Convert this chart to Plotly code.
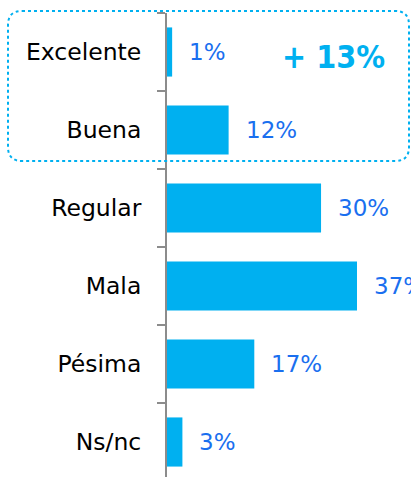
import plotly.graph_objects as go

categories = ["Excelente", "Buena", "Regular", "Mala", "Pésima", "Ns/nc"]
values = [1, 12, 30, 37, 17, 3]
highlight_text = "+ 13%"

W, H = 411, 477
ML, MR, MT, MB = 167, 0, 13, 0
PW, PH = W - ML - MR, H - MT - MB

BAR = "#00B0F0"
LBL = "#1A6FEF"
AX = "#8C8C8C"
FONT = "DejaVu Sans"

fig = go.Figure()
fig.add_trace(go.Bar(
    y=categories, x=values, orientation="h",
    marker=dict(color=BAR, line=dict(width=0)),
    width=0.63, hoverinfo="skip",
))

for c, v in zip(categories, values):
    fig.add_annotation(x=v, y=c, text=f"{v}%", xanchor="left", yanchor="middle",
                       xshift=15, showarrow=False,
                       font=dict(family=FONT, size=23, color=LBL))

def px_x(x):
    return (x - ML) / PW

def px_y(y):
    return (H - MB - y) / PH

# dotted rounded box
x0, x1, y0, y1, r = 8, 409, 11, 161, 14
path = (
    f"M {px_x(x0 + r)},{px_y(y0)} L {px_x(x1 - r)},{px_y(y0)} "
    f"Q {px_x(x1)},{px_y(y0)} {px_x(x1)},{px_y(y0 + r)} "
    f"L {px_x(x1)},{px_y(y1 - r)} "
    f"Q {px_x(x1)},{px_y(y1)} {px_x(x1 - r)},{px_y(y1)} "
    f"L {px_x(x0 + r)},{px_y(y1)} "
    f"Q {px_x(x0)},{px_y(y1)} {px_x(x0)},{px_y(y1 - r)} "
    f"L {px_x(x0)},{px_y(y0 + r)} "
    f"Q {px_x(x0)},{px_y(y0)} {px_x(x0 + r)},{px_y(y0)} Z"
)
fig.add_shape(type="path", path=path, xref="paper", yref="paper",
              line=dict(color=BAR, width=2, dash="dot"), layer="above")

fig.add_annotation(x=px_x(333), y=px_y(57), xref="paper", yref="paper",
                   text=f"<b>{highlight_text}</b>", showarrow=False,
                   xanchor="center", yanchor="middle",
                   font=dict(family="DejaVu Sans Condensed", size=32, color=BAR))

fig.update_layout(
    width=W, height=H,
    margin=dict(l=ML, r=MR, t=MT, b=MB, pad=0),
    plot_bgcolor="white", paper_bgcolor="white",
    showlegend=False,
    xaxis=dict(range=[0, PW / 5.135], visible=False, fixedrange=True),
    yaxis=dict(
        type="category", categoryorder="array", categoryarray=categories,
        range=[-0.5 + PH / 78.0, -0.5],
        showline=True, linecolor=AX, linewidth=2,
        ticks="outside", ticklen=8, tickwidth=2, tickcolor=AX,
        tickson="boundaries", ticklabelstandoff=19,
        showgrid=False, zeroline=False,
        tickfont=dict(family=FONT, size=23.5, color="black"),
    ),
)

fig.write_html(
    "out.html",
    config={"displayModeBar": False, "staticPlot": True},
    post_script="document.documentElement.style.overflow='hidden';"
                "document.body.style.margin='0';document.body.style.overflow='hidden';",
)
